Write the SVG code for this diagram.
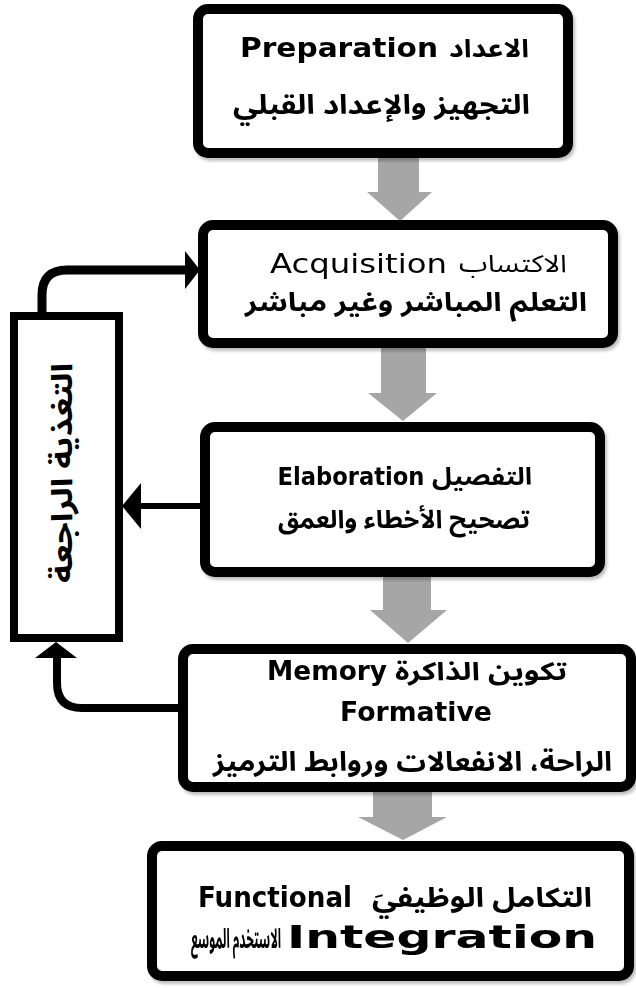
<svg xmlns="http://www.w3.org/2000/svg" width="636" height="988" viewBox="0 0 636 988">
  <style>
    .box { fill: #ffffff; stroke: #000000; stroke-width: 10; }
    .fb { fill: #ffffff; stroke: #000000; stroke-width: 8; }
    .flow { fill: #a6a6a6; }
    .link { fill: none; stroke: #000000; stroke-linecap: butt; }
    .head { fill: #000000; }
    .en { font-family: "DejaVu Sans", "Liberation Sans", sans-serif; fill: #000000; }
    .ar { font-family: "Noto Sans Arabic", "DejaVu Sans", sans-serif; fill: #000000; }
    .b { font-weight: bold; }
  </style>
  <defs>
    <filter id="shade" x="-5%" y="-5%" width="115%" height="120%">
      <feDropShadow dx="2" dy="3" stdDeviation="1.5" flood-color="#000" flood-opacity="0.25"/>
    </filter>
  </defs>

  <!-- block arrows between the stages -->
  <g id="flow-arrows">
    <polygon class="flow" points="378,157 419,157 419,192 432,192 400,221 367,192 378,192"/>
    <polygon class="flow" points="381,347 426,347 426,393 437,393 403,421 368,393 381,393"/>
    <polygon class="flow" points="383,576 431,576 431,610 447,610 408,643 370,610 383,610"/>
    <polygon class="flow" points="373,792 432,792 432,817 447,817 403,840 358,817 373,817"/>
  </g>

  <!-- feedback links -->
  <g id="connectors">
    <path class="link" stroke-width="9" d="M42,316 V295 Q42,270 67,270 H187"/>
    <polygon class="head" points="200,270 185,251 185,289"/>
    <path class="link" stroke-width="6" d="M205,506 H138"/>
    <polygon class="head" points="122,506 141,483 141,529"/>
    <path class="link" stroke-width="8" d="M183,708 H82 Q57,708 57,683 V656"/>
    <polygon class="head" points="56,642 35,658 77,658"/>
  </g>

  <g id="preparation" filter="url(#shade)">
    <rect class="box" x="198" y="9" width="370" height="144" rx="10"/>
    <text class="en b" x="339" y="57" font-size="27" text-anchor="middle" textLength="198" lengthAdjust="spacingAndGlyphs">Preparation</text>
    <text class="ar b" x="489" y="57" font-size="25" text-anchor="middle" textLength="80" lengthAdjust="spacingAndGlyphs">الاعداد</text>
    <text class="ar b" x="381.5" y="114" font-size="27" text-anchor="middle" textLength="297" lengthAdjust="spacingAndGlyphs">التجهيز والإعداد القبلي</text>
  </g>

  <g id="acquisition" filter="url(#shade)">
    <rect class="box" x="203" y="225" width="410" height="118" rx="10"/>
    <text class="en" x="358.5" y="273" font-size="27" text-anchor="middle" textLength="177" lengthAdjust="spacingAndGlyphs">Acquisition</text>
    <text class="ar" x="513" y="272" font-size="24" text-anchor="middle" textLength="108" lengthAdjust="spacingAndGlyphs">الاكتساب</text>
    <text class="ar b" x="416" y="311" font-size="26" text-anchor="middle" textLength="342" lengthAdjust="spacingAndGlyphs">التعلم المباشر وغير مباشر</text>
  </g>

  <g id="elaboration" filter="url(#shade)">
    <rect class="box" x="205" y="427" width="395" height="145" rx="10"/>
    <text class="en b" x="351" y="485" font-size="24" text-anchor="middle" textLength="147" lengthAdjust="spacingAndGlyphs">Elaboration</text>
    <text class="ar b" x="482" y="485" font-size="24" text-anchor="middle" textLength="100" lengthAdjust="spacingAndGlyphs">التفصيل</text>
    <text class="ar b" x="404" y="528" font-size="25" text-anchor="middle" textLength="252" lengthAdjust="spacingAndGlyphs">تصحيح الأخطاء والعمق</text>
  </g>

  <g id="memory" filter="url(#shade)">
    <rect class="box" x="183" y="649" width="448" height="138" rx="10"/>
    <text class="en b" x="327" y="680" font-size="26" text-anchor="middle" textLength="120" lengthAdjust="spacingAndGlyphs">Memory</text>
    <text class="ar b" x="481" y="680" font-size="25" text-anchor="middle" textLength="172" lengthAdjust="spacingAndGlyphs">تكوين الذاكرة</text>
    <text class="en b" x="416" y="721" font-size="27" text-anchor="middle" textLength="152" lengthAdjust="spacingAndGlyphs">Formative</text>
    <text class="ar b" x="412.5" y="771" font-size="27" text-anchor="middle" textLength="399" lengthAdjust="spacingAndGlyphs">الراحة، الانفعالات وروابط الترميز</text>
  </g>

  <g id="integration" filter="url(#shade)">
    <rect class="box" x="152" y="846" width="477" height="130" rx="10"/>
    <text class="en b" x="275" y="907" font-size="28" text-anchor="middle" textLength="154" lengthAdjust="spacingAndGlyphs">Functional</text>
    <text class="ar b" x="482" y="907" font-size="27" text-anchor="middle" textLength="220" lengthAdjust="spacingAndGlyphs">التكامل الوظيفيَ</text>
    <text class="en b" x="442" y="948" font-size="32" text-anchor="middle" textLength="310" lengthAdjust="spacingAndGlyphs">Integration</text>
    <text class="ar b" x="236" y="948" font-size="27" text-anchor="middle" textLength="90" lengthAdjust="spacingAndGlyphs">الاستخدم الموسع</text>
  </g>

  <g id="feedback">
    <rect class="fb" x="14" y="316" width="105" height="322"/>
    <text class="ar b" transform="translate(72,473) rotate(-90)" x="0" y="0" font-size="29" text-anchor="middle" textLength="220" lengthAdjust="spacingAndGlyphs">التغذية الراجعة</text>
  </g>
</svg>
